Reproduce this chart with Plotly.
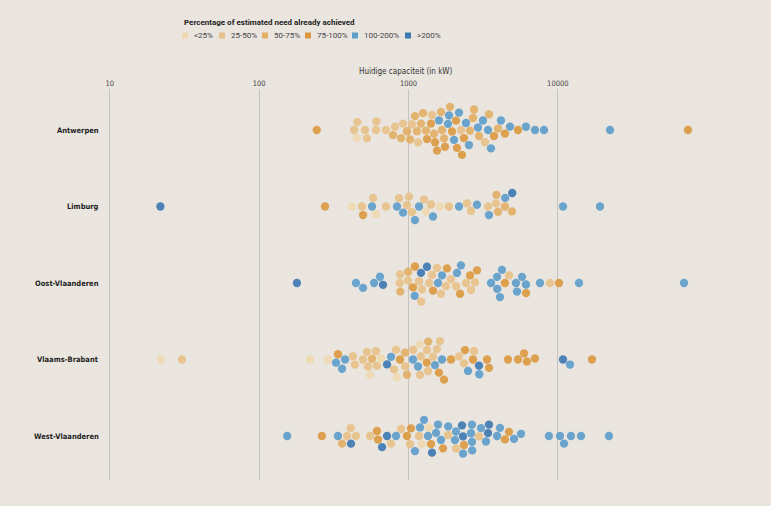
import math
import plotly.graph_objects as go

# ---------------- data ----------------
categories = ["<25%", "25-50%", "50-75%", "75-100%", "100-200%", ">200%"]
cat_colors = ["#efd9b2", "#e7c189", "#e2b066", "#da9a42", "#5e9ecb", "#3e7ab2"]

provinces = ["Antwerpen", "Limburg", "Oost-Vlaanderen", "Vlaams-Brabant", "West-Vlaanderen"]
tick_values = [10, 100, 1000, 10000]
tick_labels = ["10", "100", "1000", "10000"]

antwerpen_kw = [243, 452, 432, 455, 511, 527, 606, 610, 707, 787, 812, 891, 919, 977, 1023,
                1055, 1105, 1140, 1158, 1212, 1251, 1310, 1330, 1415, 1437, 1482, 1505, 1552,
                1600, 1650, 1676, 1729, 1756, 1839, 1868, 1897, 1956, 2017, 2080, 2112, 2179,
                2247, 2282, 2353, 2427, 2542, 2581, 2704, 2746, 2920, 2966, 3152, 3251, 3407,
                3460, 3569, 3737, 3974, 4161, 4424, 4784, 5410, 6116, 7029, 8079, 22360, 74400]
antwerpen_cat = [3, 0, 1, 1, 1, 1, 1, 1, 1, 2, 1, 2, 1, 2, 2,
                 1, 2, 2, 1, 2, 2, 2, 3, 3, 1, 2, 3, 3,
                 4, 2, 2, 2, 3, 4, 4, 2, 3, 4, 3, 3, 4,
                 1, 3, 3, 4, 4, 2, 2, 2, 4, 2, 4, 1, 4,
                 2, 4, 3, 2, 4, 3, 4, 3, 4, 4, 4, 4, 3]

limburg_kw = [21.8, 276, 418, 488, 496, 570, 579, 606, 707, 838, 864, 919, 977, 1008, 1055,
              1105, 1176, 1270, 1310, 1415, 1459, 1625, 1868, 2179, 2465, 2622, 2875, 3407,
              3460, 3856, 3880, 3974, 4424, 4440, 4930, 4950, 10830, 19160]
limburg_cat = [5, 3, 0, 1, 3, 4, 1, 0, 1, 4, 1, 4, 1, 1, 1,
               4, 4, 1, 0, 1, 4, 0, 1, 4, 1, 1, 4, 1,
               4, 1, 2, 2, 2, 4, 2, 5, 4, 4]

oost_vl_kw = [179, 445, 496, 588, 644, 675, 874, 877, 880, 992, 995, 1072, 1100, 1105, 1176,
              1212, 1215, 1231, 1330, 1372, 1437, 1459, 1552, 1576, 1650, 1676, 1783, 1811,
              1926, 2080, 2112, 2213, 2247, 2427, 2581, 2622, 2790, 2875, 3569, 3917, 3930,
              4096, 4227, 4424, 4709, 5245, 5327, 5756, 6116, 6130, 7593, 8850, 10180, 13860,
              69970]
oost_vl_cat = [5, 4, 4, 4, 4, 5, 1, 1, 2, 1, 2, 3, 4, 3, 1,
               5, 1, 1, 5, 1, 1, 3, 1, 4, 1, 4, 1, 3,
               1, 1, 4, 3, 4, 1, 3, 1, 1, 3, 4, 4, 4,
               4, 4, 3, 1, 4, 4, 4, 4, 3, 4, 1, 3, 4,
               4]

vl_brabant_kw = [22, 30.4, 219, 289, 327, 337, 359, 376, 425, 438, 496, 527, 536, 552, 570,
                 606, 615, 654, 718, 764, 800, 825, 838, 877, 948, 950, 977, 1072, 1075,
                 1158, 1190, 1194, 1212, 1325, 1330, 1351, 1355, 1459, 1505, 1552, 1600, 1625,
                 1676, 1729, 1926, 2179, 2353, 2390, 2504, 2704, 2746, 2966, 2980, 3355, 3460,
                 4636, 5410, 5940, 6209, 7029, 10830, 12060, 16930]
vl_brabant_cat = [0, 1, 0, 0, 4, 3, 4, 4, 1, 1, 1, 1, 1, 0, 2,
                  1, 1, 0, 5, 4, 1, 1, 0, 3, 2, 1, 2, 4, 1,
                  4, 0, 1, 1, 3, 1, 1, 2, 1, 4, 1, 3, 1,
                  4, 3, 3, 1, 1, 3, 4, 3, 1, 5, 4, 3, 3,
                  3, 3, 3, 3, 3, 5, 4, 3]

west_vl_kw = [154, 263, 337, 359, 388, 410, 412, 445, 552, 615, 625, 665, 718, 764, 825,
              891, 977, 1023, 1039, 1105, 1176, 1194, 1231, 1270, 1351, 1372, 1415, 1437,
              1529, 1576, 1650, 1702, 1839, 1845, 2048, 2080, 2085, 2282, 2318, 2320, 2353,
              2622, 2660, 2663, 2668, 2966, 3059, 3303, 3407, 3460, 3917, 4096, 4424, 4709,
              5090, 5670, 8718, 10340, 11000, 12250, 14290, 22010]
west_vl_cat = [4, 3, 4, 2, 1, 1, 5, 1, 1, 3, 3, 5, 5, 1, 4,
               1, 3, 1, 3, 4, 1, 4, 0, 4, 4, 0, 3, 5,
               4, 4, 4, 3, 1, 4, 4, 4, 1, 5, 5, 4, 3,
               4, 4, 4, 4, 1, 4, 4, 5, 5, 4, 4, 3, 3,
               4, 4, 4, 4, 4, 4, 4, 4]

series_kw = [antwerpen_kw, limburg_kw, oost_vl_kw, vl_brabant_kw, west_vl_kw]
series_cat = [antwerpen_cat, limburg_cat, oost_vl_cat, vl_brabant_cat, west_vl_cat]

# ---------------- layout constants ----------------
W, H = 771, 506
M_T, M_B, M_L, M_R = 89, 26, 0, 0
BG = "#eae5df"
X_LOG_MIN = 3 - 408.5 / 149.33
X_LOG_MAX = 3 + (W - 408.5) / 149.33
ROW_PX = 76.5
FIRST_ROW_PX = 130
PLOT_H = H - M_T - M_B
Y_TOP = -(FIRST_ROW_PX - M_T) / ROW_PX
Y_BOTTOM = Y_TOP + PLOT_H / ROW_PX
DOT = 8.3
SEP = 8.6


def to_px(v):
    return (math.log10(v) - X_LOG_MIN) / (X_LOG_MAX - X_LOG_MIN) * (W - M_L - M_R)


def dodge(xs, d):
    order = sorted(range(len(xs)), key=lambda i: xs[i])
    placed = []
    ys = [0.0] * len(xs)
    flip = 1
    for i in order:
        x = xs[i]
        near = [(px, py) for px, py in placed if abs(px - x) < d]
        cands = [0.0]
        for px, py in near:
            dy = math.sqrt(d * d - (px - x) ** 2)
            cands += [py + dy, py - dy]
        cands.sort(key=lambda c: (round(abs(c), 6), -flip * c))
        for c in cands:
            if all((px - x) ** 2 + (py - c) ** 2 >= d * d - 1e-6 for px, py in near):
                ys[i] = c
                break
        if ys[i] != 0:
            flip = -flip
        placed.append((x, ys[i]))
    return ys


# build per-category point lists
pts = {k: ([], []) for k in range(len(categories))}
for r, (kws, cats) in enumerate(zip(series_kw, series_cat)):
    offs = dodge([to_px(v) for v in kws], SEP)
    for v, c, o in zip(kws, cats, offs):
        pts[c][0].append(v)
        pts[c][1].append(r + o / ROW_PX)

fig = go.Figure()
for k, name in enumerate(categories):
    fig.add_trace(go.Scatter(
        x=pts[k][0], y=pts[k][1], mode="markers", name=name,
        marker=dict(size=DOT, color=cat_colors[k], opacity=0.92, line=dict(width=0)),
        showlegend=False, hoverinfo="x+name"))

FONT_NARROW = "DejaVu Sans Condensed, Liberation Sans Narrow, Roboto, sans-serif"
FONT = "Roboto, Liberation Sans, Arial, sans-serif"

annotations = []
for r, p in enumerate(provinces):
    annotations.append(dict(
        x=100.5 / W, xref="paper", y=r, yref="y", text="<b>" + p + "</b>",
        showarrow=False, xanchor="right", yanchor="middle",
        font=dict(family=FONT_NARROW, size=7.5, color="#1e1e1e")))


def py(y):
    return (H - M_B - y) / PLOT_H


# legend (drawn as squares + text)
annotations.append(dict(
    x=182 / W, xref="paper", y=py(22.5), yref="paper",
    text="<b>Percentage of estimated need already achieved</b>",
    showarrow=False, xanchor="left", yanchor="middle",
    font=dict(family=FONT, size=8, color="#222222")))
legend_sq_x = [182, 219, 262, 305, 352, 405]
shapes = []
for k, name in enumerate(categories):
    x0 = legend_sq_x[k]
    shapes.append(dict(type="rect", xref="paper", yref="paper",
                       x0=x0 / W, x1=(x0 + 6) / W, y0=py(38.5), y1=py(32.5),
                       fillcolor=cat_colors[k], line=dict(width=0)))
    annotations.append(dict(
        x=(x0 + 9.5) / W, xref="paper", y=py(35.5), yref="paper", text=name,
        showarrow=False, xanchor="left", yanchor="middle",
        font=dict(family=FONT, size=8, color="#444444")))

# axis title
annotations.append(dict(
    x=405 / W, xref="paper", y=py(71.5), yref="paper", text="Huidige capaciteit (in kW)",
    showarrow=False, xanchor="center", yanchor="middle",
    font=dict(family=FONT_NARROW, size=8, color="#333333")))

fig.update_layout(
    width=W, height=H,
    margin=dict(l=M_L, r=M_R, t=M_T, b=M_B, pad=0),
    paper_bgcolor=BG, plot_bgcolor=BG,
    showlegend=False,
    annotations=annotations, shapes=shapes,
    xaxis=dict(type="log", range=[X_LOG_MIN, X_LOG_MAX], side="top",
               tickvals=tick_values, ticktext=tick_labels,
               showgrid=True, gridcolor="#c6c2bd", gridwidth=1,
               zeroline=False, showline=False, ticks="", ticklabelstandoff=1,
               tickfont=dict(family=FONT_NARROW, size=7.5, color="#444444")),
    yaxis=dict(range=[Y_BOTTOM, Y_TOP], showgrid=False, zeroline=False,
               showticklabels=False, showline=False, ticks=""),
)

fig.write_html("out.html")
